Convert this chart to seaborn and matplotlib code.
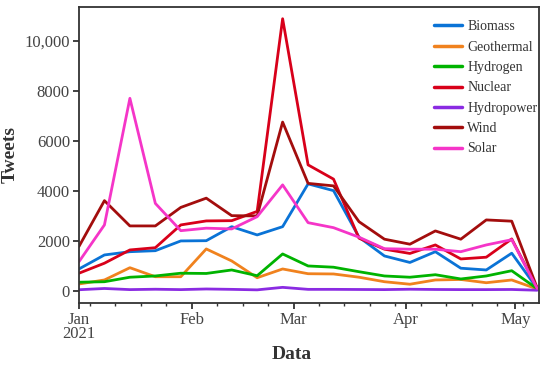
import numpy as np
import pandas as pd
import matplotlib
matplotlib.use("Agg")
import matplotlib.pyplot as plt
import matplotlib.dates as mdates
import matplotlib.ticker as mticker
import seaborn as sns

dates = pd.date_range("2021-01-01", "2021-05-07", freq="7D")

biomass    = [880, 1440, 1570, 1610, 2000, 2010, 2570, 2240, 2570, 4280, 4010, 2150, 1400, 1140, 1570, 910, 840, 1510, 100]
geothermal = [280, 440, 930, 570, 570, 1680, 1200, 530, 880, 690, 680, 550, 370, 270, 440, 460, 330, 440, 80]
hydrogen   = [350, 370, 550, 600, 710, 700, 840, 610, 1480, 1000, 950, 770, 600, 550, 650, 480, 600, 810, 90]
nuclear    = [710, 1110, 1640, 1730, 2640, 2800, 2810, 3180, 10880, 5040, 4470, 2110, 1670, 1500, 1840, 1280, 1350, 2080, 110]
hydropower = [50, 100, 55, 70, 55, 80, 65, 45, 145, 65, 65, 60, 55, 70, 60, 55, 55, 60, 30]
wind       = [1780, 3610, 2600, 2600, 3340, 3710, 3010, 3000, 6750, 4300, 4200, 2770, 2070, 1870, 2400, 2070, 2840, 2790, 120]
solar      = [1170, 2640, 7700, 3500, 2410, 2510, 2480, 2970, 4240, 2730, 2530, 2150, 1690, 1670, 1670, 1570, 1840, 2050, 100]

series_names = ["Biomass", "Geothermal", "Hydrogen", "Nuclear", "Hydropower", "Wind", "Solar"]
colors = ["#0a73d6", "#f0821e", "#00b300", "#d8001a", "#8a2be2", "#a30d0d", "#f535c8"]
month_ticks = pd.to_datetime(["2021-01-01", "2021-02-01", "2021-03-01", "2021-04-01", "2021-05-01"])
month_labels = ["Jan\n2021", "Feb", "Mar", "Apr", "May"]
y_ticks = [0, 2000, 4000, 6000, 8000, 10000]
y_labels = ["0", "2000", "4000", "6000", "8000", "10,000"]

values = [biomass, geothermal, hydrogen, nuclear, hydropower, wind, solar]
df = pd.concat([pd.DataFrame({"Date": dates, "Tweets": v, "Source": n})
                for n, v in zip(series_names, values)], ignore_index=True)

sns.set_style("ticks")
plt.rcParams["font.family"] = ["Liberation Serif", "DejaVu Serif"]

fig = plt.figure(figsize=(5.5, 3.67), dpi=100)
ax = fig.add_axes([0.1436, 0.1744, 0.8364, 0.8066])

sns.lineplot(data=df, x="Date", y="Tweets", hue="Source", hue_order=series_names,
             palette=dict(zip(series_names, colors)), linewidth=2.0, ax=ax)

ax.set_xlim(pd.Timestamp("2021-01-01"), pd.Timestamp("2021-05-07 12:00"))
ax.set_ylim(-480, 11350)
ax.xaxis.set_major_locator(mticker.FixedLocator(mdates.date2num(month_ticks)))
ax.xaxis.set_major_formatter(mticker.FixedFormatter(month_labels))
ax.xaxis.set_minor_locator(mdates.WeekdayLocator(byweekday=mdates.MO))
ax.set_yticks(y_ticks)
ax.set_yticklabels(y_labels)

for s in ax.spines.values():
    s.set_visible(True)
    s.set_linewidth(1.3)
    s.set_color("#333333")
ax.tick_params(axis="both", which="major", length=4.5, width=1.3, color="#333333",
               labelsize=12, labelcolor="#444444", pad=2)
ax.tick_params(axis="x", which="minor", length=2.5, width=1.0, color="#333333")
for lab in ax.get_xticklabels():
    lab.set_linespacing(0.8)

ax.set_ylabel("Tweets", fontsize=14, fontweight="bold", color="#333333")
ax.set_xlabel("Data", fontsize=14, fontweight="bold", color="#333333")
ax.yaxis.set_label_coords(-0.132, 0.5)
ax.xaxis.set_label_coords(0.463, -0.145)

leg = ax.legend(loc="upper left", bbox_to_anchor=(0.772, 0.955), fontsize=10,
                frameon=True, handlelength=2.0, labelspacing=0.53, borderpad=0.0,
                handletextpad=0.4, borderaxespad=0.0)
leg.get_frame().set_edgecolor("none")
leg.get_frame().set_facecolor("white")
for t in leg.get_texts():
    t.set_color("#333333")
for h in leg.get_lines():
    h.set_linewidth(2.5)

fig.savefig("out.png", dpi=100)
